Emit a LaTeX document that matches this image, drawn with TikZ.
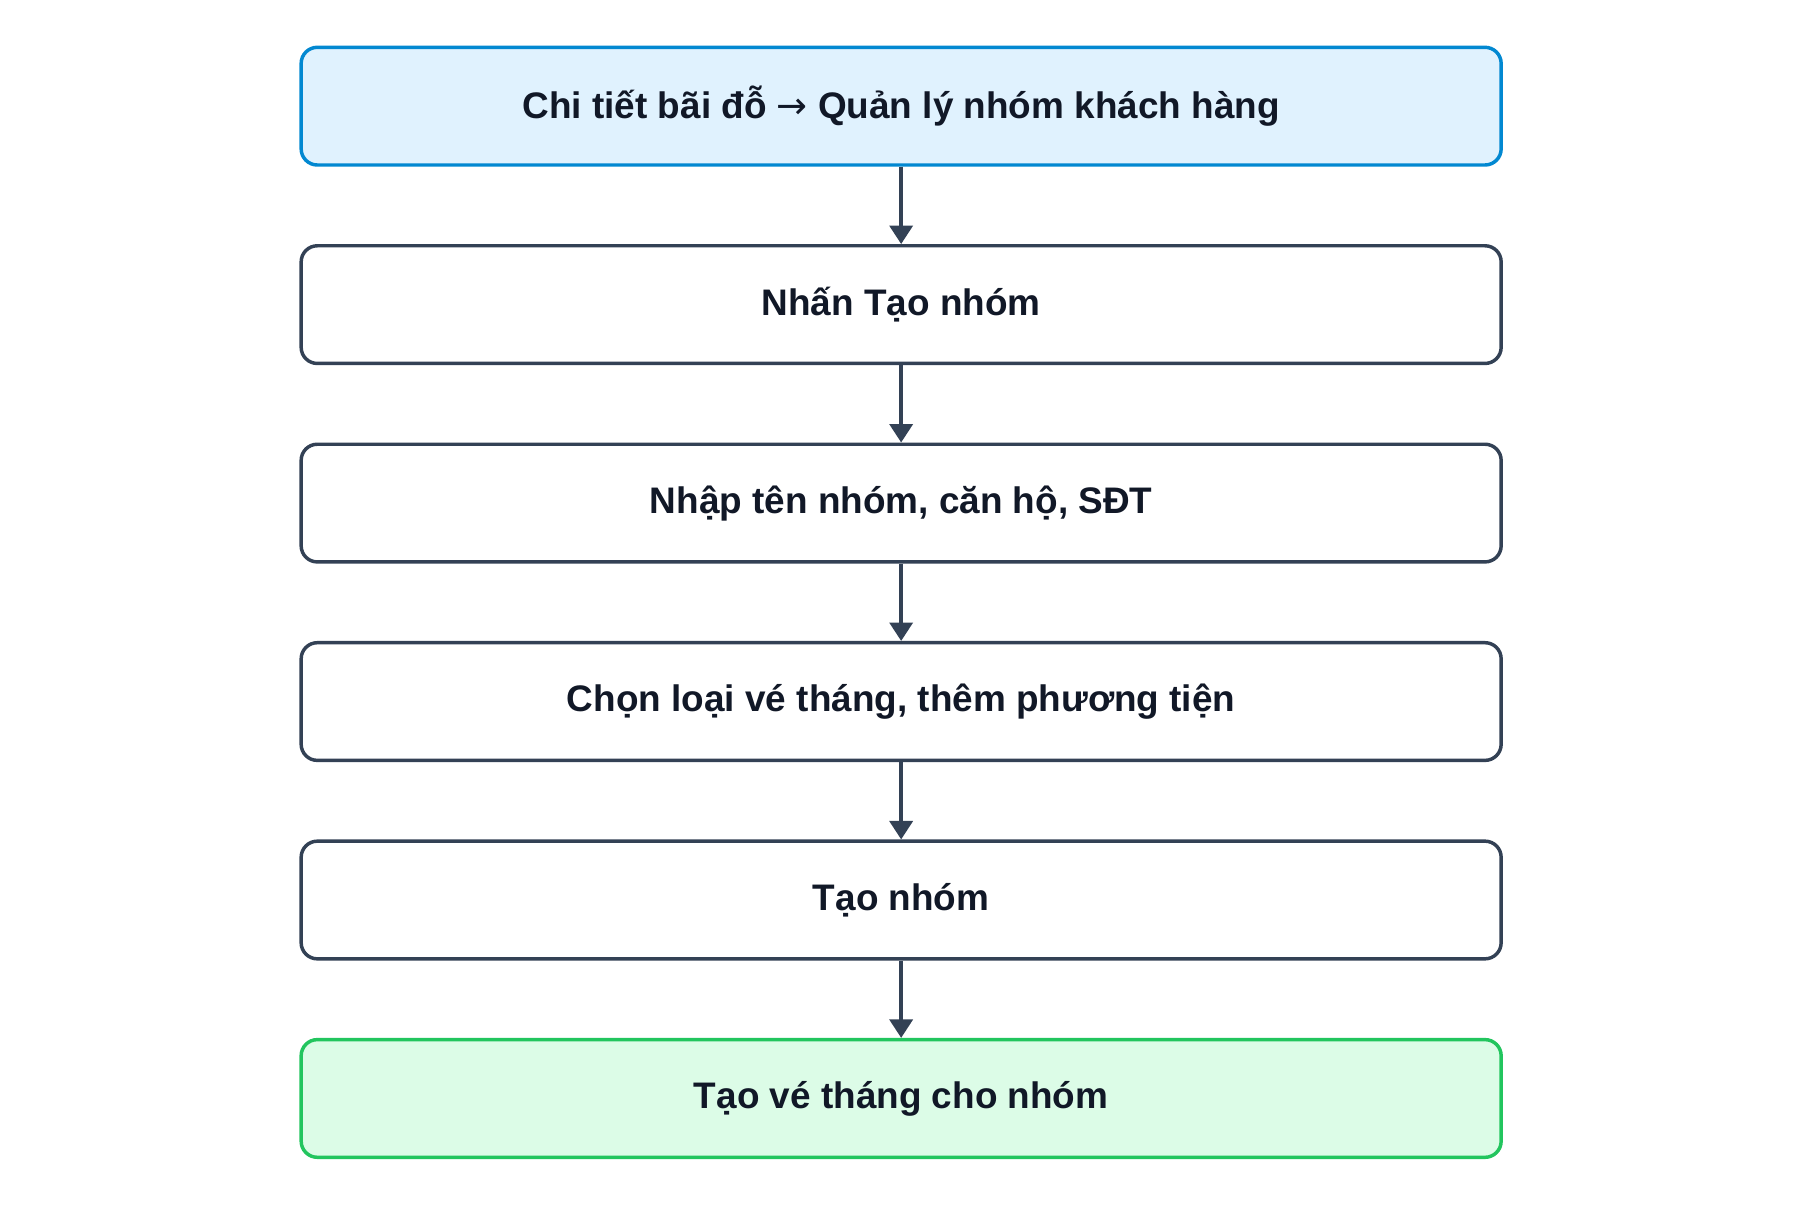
\documentclass[tikz,border=0pt]{standalone}
\usepackage{fontspec}
\setmainfont{Liberation Sans}
\newfontfamily\arrowfont{DejaVu Sans}
\usetikzlibrary{arrows.meta, positioning}
\definecolor{slate}{HTML}{334155}
\definecolor{inktext}{HTML}{111827}
\definecolor{bluefill}{HTML}{E0F2FE}
\definecolor{blueline}{HTML}{0288D1}
\definecolor{greenfill}{HTML}{DCFCE7}
\definecolor{greenline}{HTML}{22C55E}
\tikzset{
  stepbox/.style={
    rectangle, draw=slate, line width=1.5pt, rounded corners=7pt, fill=white,
    minimum width=520pt, minimum height=51pt, align=center,
    font=\fontsize{16}{19}\selectfont\bfseries, text=inktext
  },
  startbox/.style={stepbox, draw=blueline, fill=bluefill},
  endbox/.style={stepbox, draw=greenline, fill=greenfill},
  flow/.style={-{Triangle[length=8pt,width=10pt]}, line width=1.5pt, draw=slate}
}

\begin{document}
\begin{tikzpicture}[x=0.5pt, y=0.5pt, node distance=33.5pt]
    \useasboundingbox (0,0) rectangle (1560,-1054);

    % Steps
    \node[startbox] (s1) at (781,-92) {Chi tiết bãi đỗ {\arrowfont\mdseries →} Quản lý nhóm khách hàng};
    \node[stepbox, below=of s1] (s2) {Nhấn Tạo nhóm};
    \node[stepbox, below=of s2] (s3) {Nhập tên nhóm, căn hộ, SĐT};
    \node[stepbox, below=of s3] (s4) {Chọn loại vé tháng, thêm phương tiện};
    \node[stepbox, below=of s4] (s5) {Tạo nhóm};
    \node[endbox, below=of s5] (s6) {Tạo vé tháng cho nhóm};

    % Connectors
    \foreach \a/\b in {s1/s2, s2/s3, s3/s4, s4/s5, s5/s6}
        \draw[flow] (\a) -- (\b);
\end{tikzpicture}
\end{document}
